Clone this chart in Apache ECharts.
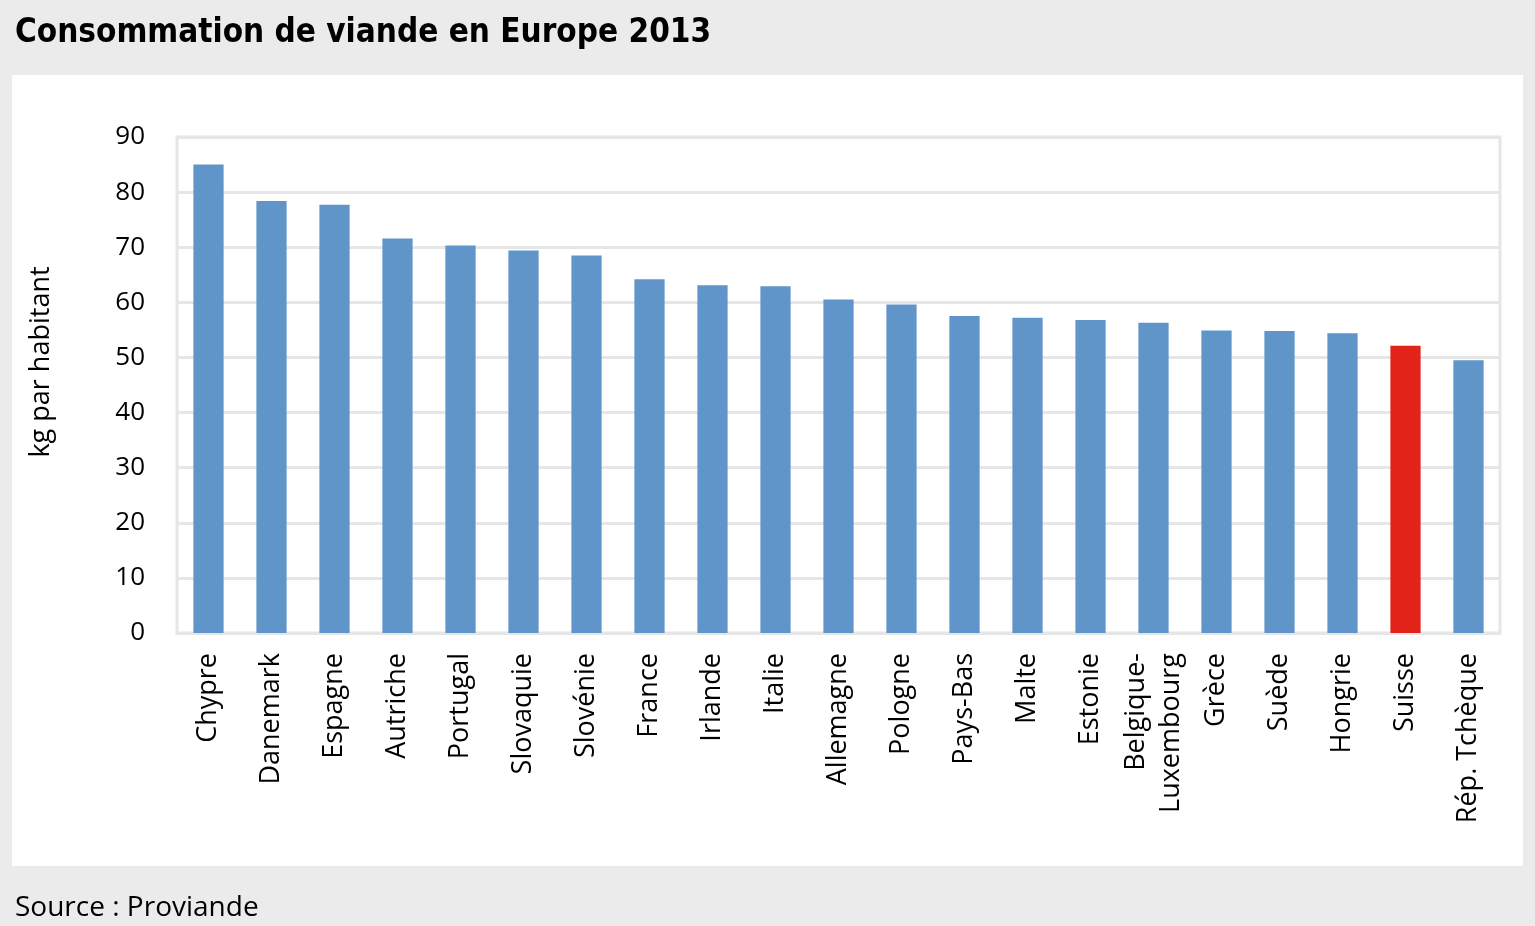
<!DOCTYPE html>
<html>
<head>
<meta charset="utf-8">
<script src="https://cdn.jsdelivr.net/npm/echarts@6/dist/echarts.min.js"></script>
<style>
html,body{margin:0;padding:0;background:#ebebeb;}
#c{width:1535px;height:926px;}
</style>
</head>
<body>
<div id="c"></div>
<script>
const categories = ["Chypre","Danemark","Espagne","Autriche","Portugal","Slovaquie","Slovénie","France","Irlande","Italie","Allemagne","Pologne","Pays-Bas","Malte","Estonie","Belgique-\nLuxembourg","Grèce","Suède","Hongrie","Suisse","Rép. Tchèque"];
const values = [85.0,78.4,77.7,71.6,70.3,69.4,68.5,64.2,63.1,62.9,60.5,59.6,57.5,57.2,56.8,56.3,54.9,54.8,54.4,52.1,49.5];
const highlight = "Suisse";
const yTicks = [0,10,20,30,40,50,60,70,80,90];

const chart = echarts.init(document.getElementById('c'));
const font = "'Open Sans', sans-serif";
chart.setOption({
  backgroundColor: '#ebebeb',
  animation: false,
  graphic: [{
    type: 'rect', z: -10, silent: true,
    shape: {x: 12, y: 75, width: 1511, height: 791},
    style: {fill: '#ffffff'}
  }],
  title: [{
    text: 'Consommation de viande en Europe 2013',
    left: 10, top: 12,
    textStyle: {fontFamily: "'DejaVu Sans Condensed', sans-serif", fontWeight: 'bold', fontSize: 33, color: '#000'}
  },{
    text: 'Source : Proviande',
    left: 10, top: 889,
    textStyle: {fontFamily: font, fontWeight: 'normal', fontSize: 28, color: '#000'}
  }],
  grid: {left: 177, right: 35, top: 137, bottom: 293, show: true, borderColor: '#e6e6e6', borderWidth: 3},
  xAxis: {
    type: 'category',
    data: categories,
    axisLine: {show: true, lineStyle: {color: '#e6e6e6', width: 3}},
    axisTick: {show: false},
    axisLabel: {rotate: 90, interval: 0, margin: 20, color: '#000', fontFamily: font, fontSize: 27, lineHeight: 35}
  },
  yAxis: {
    type: 'value',
    min: 0, max: 90, interval: 10,
    name: 'kg par habitant',
    nameLocation: 'middle',
    nameRotate: 90,
    nameGap: 122,
    nameTextStyle: {color: '#000', fontFamily: font, fontSize: 27, padding: [0, 0, 0, 46]},
    axisLine: {show: false},
    axisTick: {show: false},
    splitLine: {lineStyle: {color: '#e6e6e6', width: 3}},
    axisLabel: {margin: 32, color: '#000', fontFamily: font, fontSize: 26,
      formatter: v => yTicks.includes(v) ? String(v) : ''}
  },
  series: [{
    type: 'bar',
    barWidth: '48%',
    data: values.map((v, i) => ({
      value: v,
      itemStyle: {color: categories[i] === highlight ? '#e2231a' : '#6095c9'}
    }))
  }]
});
</script>
</body>
</html>
